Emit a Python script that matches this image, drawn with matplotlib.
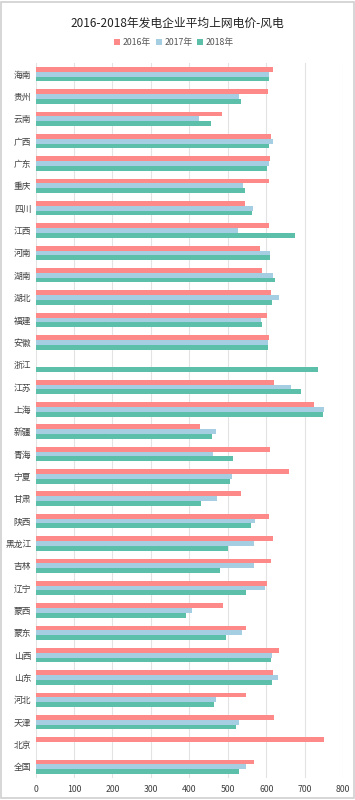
import numpy as np
import matplotlib
matplotlib.use("Agg")
import matplotlib.pyplot as plt
from matplotlib.patches import Rectangle

plt.rcParams['font.family'] = ['Noto Sans CJK SC', 'DejaVu Sans']

# provinces, top to bottom
regions = ['海南', '贵州', '云南', '广西', '广东', '重庆', '四川', '江西', '河南', '湖南',
           '湖北', '福建', '安徽', '浙江', '江苏', '上海', '新疆', '青海', '宁夏', '甘肃',
           '陕西', '黑龙江', '吉林', '辽宁', '蒙西', '蒙东', '山西', '山东', '河北', '天津',
           '北京', '全国']
price_2016 = [618, 603, 484, 611, 609, 608, 545, 608, 583, 589,
              613, 601, 608, np.nan, 620, 725, 427, 609, 658, 535,
              606, 618, 613, 601, 487, 546, 634, 617, 546, 621,
              749, 567]
price_2017 = [608, 529, 424, 617, 608, 539, 565, 527, 610, 616,
              632, 585, 605, np.nan, 663, 751, 468, 462, 510, 473,
              571, 567, 567, 597, 407, 536, 615, 629, 468, 528,
              np.nan, 548]
price_2018 = [608, 534, 455, 606, 602, 545, 562, 674, 610, 622,
              614, 589, 605, 733, 691, 746, 458, 513, 505, 429,
              559, 500, 480, 546, 390, 494, 611, 615, 463, 521,
              np.nan, 529]
years = ['2016年', '2017年', '2018年']
colors = ['#FD8A88', '#A6CEE2', '#5CBFA9']

fig = plt.figure(figsize=(3.55, 8.0), dpi=100)
ax = fig.add_axes([35.5 / 355, 22 / 800, 307.8 / 355, 715 / 800])

y = np.arange(len(regions))
h = 0.215
for i, (vals, c, lab) in enumerate(zip([price_2016, price_2017, price_2018], colors, years)):
    ax.barh(y + (i - 1) * h, vals, height=h, color=c, label=lab, zorder=3)

ax.set_xlim(0, 800)
ax.set_ylim(len(regions) - 0.5, -0.5)
ax.set_yticks(y)
ax.set_yticklabels(regions, fontsize=6.3, color='#404040')
ax.set_xticks(range(0, 801, 100))
ax.tick_params(axis='x', labelsize=6.3, colors='#404040', length=0, pad=5)
ax.tick_params(axis='y', length=0, pad=3)
ax.grid(axis='x', color='#E3E3E3', linewidth=0.8, zorder=0)
for s in ax.spines.values():
    s.set_visible(False)

fig.suptitle('2016-2018年发电企业平均上网电价-风电', y=0.979, fontsize=8.5, color='#222222')
fig.legend(loc='upper center', bbox_to_anchor=(0.49, 0.962), ncol=3, frameon=False,
           fontsize=6.3, handlelength=0.7, handleheight=0.7, handletextpad=0.3,
           columnspacing=0.5, labelcolor='#555555')

fig.patches.append(Rectangle((0.002, 0.002), 0.996, 0.996, transform=fig.transFigure,
                             fill=False, edgecolor='#D0D0D0', linewidth=1.2))

plt.savefig('out.png', dpi=100)
